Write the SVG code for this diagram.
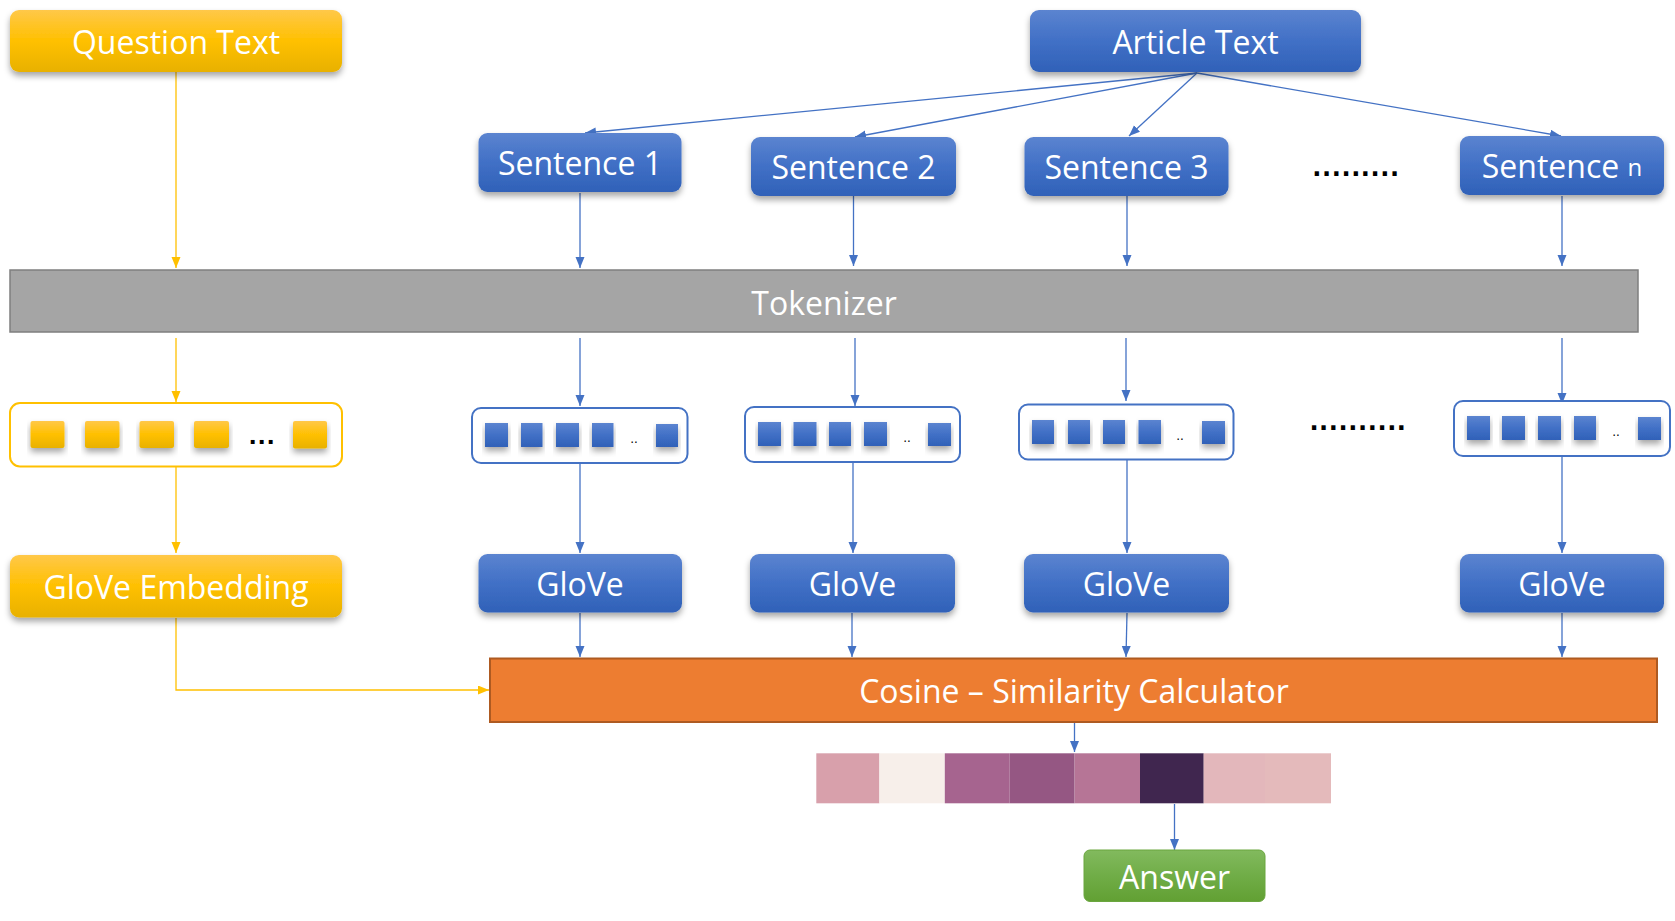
<svg xmlns="http://www.w3.org/2000/svg" width="1675" height="921" viewBox="0 0 1675 921">
<defs>
<linearGradient id="gBlue" x1="0" y1="0" x2="0" y2="1"><stop offset="0" stop-color="#5b84d0"/><stop offset="0.5" stop-color="#4170c6"/><stop offset="1" stop-color="#3061b8"/></linearGradient>
<linearGradient id="gYel" x1="0" y1="0" x2="0" y2="1"><stop offset="0" stop-color="#ffc849"/><stop offset="0.5" stop-color="#ffc000"/><stop offset="1" stop-color="#e8b100"/></linearGradient>
<linearGradient id="gGreen" x1="0" y1="0" x2="0" y2="1"><stop offset="0" stop-color="#82ba5e"/><stop offset="0.5" stop-color="#70ad47"/><stop offset="1" stop-color="#62a033"/></linearGradient>
<filter id="sh" x="-10%" y="-20%" width="120%" height="160%"><feDropShadow dx="0" dy="4" stdDeviation="3" flood-color="#000" flood-opacity="0.35"/></filter>
<marker id="aB" markerUnits="userSpaceOnUse" markerWidth="12" markerHeight="10" refX="11" refY="4.5" orient="auto"><path d="M0,0 L11,4.5 L0,9 z" fill="#4472c4"/></marker>
<marker id="aY" markerUnits="userSpaceOnUse" markerWidth="12" markerHeight="10" refX="11" refY="4.5" orient="auto"><path d="M0,0 L11,4.5 L0,9 z" fill="#ffc000"/></marker>
</defs>
<style>
.t{font-family:"Open Sans","Noto Sans",sans-serif;font-size:32px;fill:#fff;text-anchor:middle;dominant-baseline:central}
.nb{fill:url(#gBlue);filter:url(#sh)}
.ny{fill:url(#gYel);filter:url(#sh)}
.cb{stroke:#4472c4;stroke-width:1.3;fill:none;marker-end:url(#aB)}
.cy{stroke:#ffc000;stroke-width:1.3;fill:none;marker-end:url(#aY)}
.sqb{fill:url(#gBlue);filter:url(#sh)}
.sqy{fill:url(#gYel);filter:url(#sh)}
.boxb{fill:#fff;stroke:#4472c4;stroke-width:2}
.boxy{fill:#fff;stroke:#ffc000;stroke-width:2}
.dots{font-family:"DejaVu Sans",sans-serif;font-size:24px;font-weight:bold;fill:#000;text-anchor:middle;letter-spacing:0.6px}
.sd{font-family:"DejaVu Sans",sans-serif;font-size:12px;fill:#000;text-anchor:middle}
</style>

<g id="connectors">
<line class="cb" x1="1197" y1="73" x2="585" y2="133"/>
<line class="cb" x1="1197" y1="73" x2="855" y2="137"/>
<line class="cb" x1="1197" y1="73" x2="1129" y2="136"/>
<line class="cb" x1="1197" y1="73" x2="1561" y2="136"/>
<line class="cy" x1="176" y1="72" x2="176" y2="268"/>
<line class="cb" x1="580" y1="193" x2="580" y2="268"/>
<line class="cb" x1="853.5" y1="196" x2="853.5" y2="266"/>
<line class="cb" x1="1127" y1="196" x2="1127" y2="266"/>
<line class="cb" x1="1562" y1="196" x2="1562" y2="266"/>
<line class="cy" x1="176" y1="338" x2="176" y2="402"/>
<line class="cb" x1="580" y1="338" x2="580" y2="406"/>
<line class="cb" x1="855" y1="338" x2="855" y2="406"/>
<line class="cb" x1="1126" y1="338" x2="1126" y2="401"/>
<line class="cb" x1="1562" y1="338" x2="1562" y2="404"/>
<line class="cy" x1="176" y1="467" x2="176" y2="553"/>
<line class="cb" x1="580" y1="463" x2="580" y2="553"/>
<line class="cb" x1="853" y1="462" x2="853" y2="553"/>
<line class="cb" x1="1127" y1="460" x2="1127" y2="553"/>
<line class="cb" x1="1562" y1="456" x2="1562" y2="553"/>
<line class="cb" x1="580" y1="613" x2="580" y2="657"/>
<line class="cb" x1="852" y1="613" x2="852" y2="657"/>
<line class="cb" x1="1127" y1="613" x2="1126" y2="657"/>
<line class="cb" x1="1562" y1="613" x2="1562" y2="657"/>
<polyline class="cy" points="176,618 176,690 489,690"/>
<line class="cb" x1="1074.5" y1="722" x2="1074.5" y2="752"/>
<line class="cb" x1="1174.5" y1="804" x2="1174.5" y2="850"/>
</g>

<g id="question-text"><rect class="ny" x="10" y="10" width="332" height="62" rx="9"/><text class="t" x="176" y="41">Question Text</text></g>
<g id="article-text"><rect class="nb" x="1030" y="10" width="331" height="62" rx="9"/><text class="t" x="1195.5" y="41">Article Text</text></g>
<g id="sentence-1"><rect class="nb" x="478.5" y="133" width="203" height="59" rx="9"/><text class="t" x="580" y="162.5">Sentence 1</text></g>
<g id="sentence-2"><rect class="nb" x="751" y="137" width="205" height="59" rx="9"/><text class="t" x="853.5" y="166">Sentence 2</text></g>
<g id="sentence-3"><rect class="nb" x="1024.5" y="137" width="204" height="59" rx="9"/><text class="t" x="1126.5" y="166">Sentence 3</text></g>
<g id="dots-sentences"><text class="dots" x="1356" y="176">.........</text></g>
<g id="sentence-n"><rect class="nb" x="1460" y="136" width="204" height="59" rx="9"/><text class="t" x="1562" y="165.5">Sentence <tspan font-size="24px">n</tspan></text></g>

<g id="tokenizer"><rect x="10" y="270" width="1628" height="62" fill="#a5a5a5" stroke="#7f7f7f" stroke-width="1.5"/><text class="t" x="824" y="302">Tokenizer</text></g>

<g id="tokens-question">
<rect class="boxy" x="10" y="403" width="332" height="63.5" rx="10"/>
<rect class="sqy" x="30.5" y="421" width="34" height="27" rx="2"/>
<rect class="sqy" x="85" y="421" width="34.5" height="27" rx="2"/>
<rect class="sqy" x="139.5" y="421" width="34.5" height="27" rx="2"/>
<rect class="sqy" x="194" y="421" width="35" height="27" rx="2"/>
<rect class="sqy" x="293" y="421" width="34" height="27.5" rx="2"/>
<text class="dots" x="262" y="444" style="font-size:22px">...</text>
</g>
<g id="tokens-1">
<rect class="boxb" x="472" y="408" width="215.5" height="55" rx="9"/>
<rect class="sqb" x="485" y="423" width="23" height="24"/>
<rect class="sqb" x="521" y="423" width="21.5" height="24"/>
<rect class="sqb" x="556" y="423" width="23" height="24"/>
<rect class="sqb" x="592" y="423" width="21.5" height="24"/>
<rect class="sqb" x="656" y="424" width="22" height="23"/>
<text class="sd" x="634" y="443">..</text>
</g>
<g id="tokens-2">
<rect class="boxb" x="745" y="407" width="215" height="55" rx="9"/>
<rect class="sqb" x="758" y="422" width="23" height="24"/>
<rect class="sqb" x="793.5" y="422" width="23" height="24"/>
<rect class="sqb" x="829" y="422" width="22" height="24"/>
<rect class="sqb" x="864" y="422" width="23" height="24"/>
<rect class="sqb" x="928" y="423" width="23" height="23"/>
<text class="sd" x="907" y="442">..</text>
</g>
<g id="tokens-3">
<rect class="boxb" x="1019" y="404.5" width="214.5" height="55" rx="9"/>
<rect class="sqb" x="1032" y="420" width="22" height="24"/>
<rect class="sqb" x="1068" y="420" width="22" height="24"/>
<rect class="sqb" x="1103" y="420" width="22" height="24"/>
<rect class="sqb" x="1138.5" y="420" width="22.5" height="24"/>
<rect class="sqb" x="1202" y="421" width="23" height="23"/>
<text class="sd" x="1180" y="440">..</text>
</g>
<g id="dots-tokens"><text class="dots" x="1358" y="430">..........</text></g>
<g id="tokens-n">
<rect class="boxb" x="1454" y="401" width="216" height="55" rx="9"/>
<rect class="sqb" x="1467" y="416" width="23" height="24"/>
<rect class="sqb" x="1502" y="416" width="23" height="24"/>
<rect class="sqb" x="1538" y="416" width="23" height="24"/>
<rect class="sqb" x="1574" y="416" width="22" height="24"/>
<rect class="sqb" x="1638" y="417" width="23" height="23"/>
<text class="sd" x="1616" y="436">..</text>
</g>

<g id="glove-embedding"><rect class="ny" x="10" y="555" width="332" height="62.5" rx="9"/><text class="t" x="176" y="586">GloVe Embedding</text></g>
<g id="glove-1"><rect class="nb" x="478.5" y="554" width="203.5" height="58.5" rx="9"/><text class="t" x="580" y="583">GloVe</text></g>
<g id="glove-2"><rect class="nb" x="750" y="554" width="205" height="58.5" rx="9"/><text class="t" x="852.5" y="583">GloVe</text></g>
<g id="glove-3"><rect class="nb" x="1024" y="554" width="205" height="58.5" rx="9"/><text class="t" x="1126.5" y="583">GloVe</text></g>
<g id="glove-n"><rect class="nb" x="1460" y="554" width="204" height="58.5" rx="9"/><text class="t" x="1562" y="583">GloVe</text></g>

<g id="cosine-similarity"><rect x="490" y="658.5" width="1167" height="63.5" fill="#ed7d31" stroke="#ae5a21" stroke-width="2"/><text class="t" x="1074" y="690">Cosine – Similarity Calculator</text></g>

<g id="scores">
<rect x="816.3" y="753.3" width="63.1" height="50" fill="#d8a0ab"/>
<rect x="879.4" y="753.3" width="65.4" height="50" fill="#f7efea"/>
<rect x="944.8" y="753.3" width="64.9" height="50" fill="#a6648f"/>
<rect x="1009.7" y="753.3" width="64.9" height="50" fill="#955783"/>
<rect x="1074.6" y="753.3" width="65.4" height="50" fill="#b67596"/>
<rect x="1140" y="753.3" width="63.7" height="50" fill="#40264f"/>
<rect x="1203.7" y="753.3" width="61.3" height="50" fill="#e3b7bb"/>
<rect x="1265" y="753.3" width="66" height="50" fill="#e4babb"/>
</g>

<g id="answer"><rect x="1084" y="850" width="181" height="51.5" rx="6" fill="url(#gGreen)" stroke="#6aa63f" stroke-width="1"/><text class="t" x="1174.5" y="876">Answer</text></g>
</svg>
